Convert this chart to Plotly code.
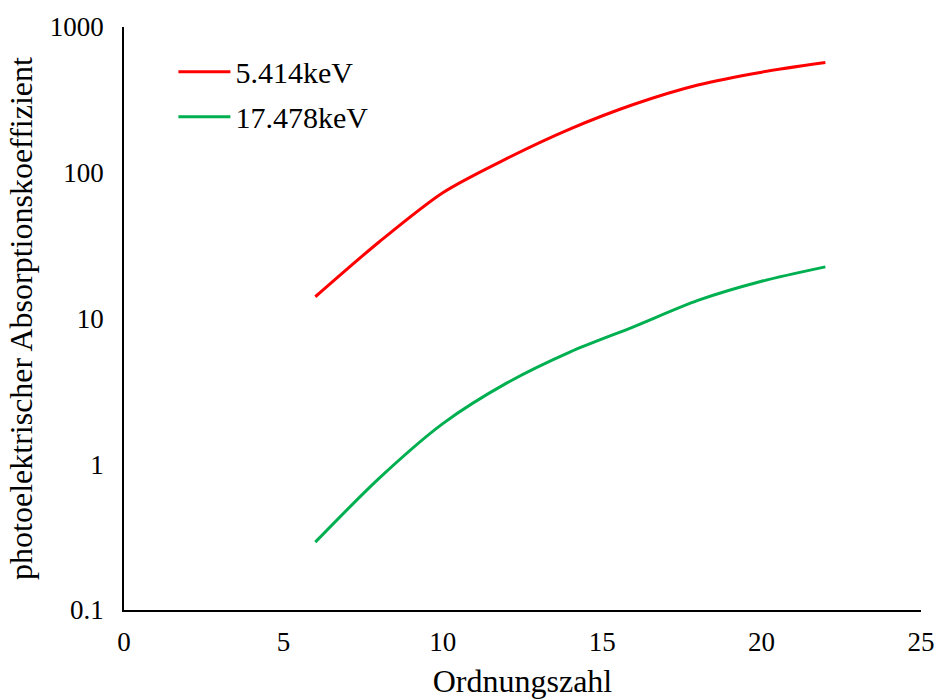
import plotly.graph_objects as go

# Atomic number (Ordnungszahl)
z_values = [6, 8, 10, 12, 14, 16, 18, 20, 22]
# photoelectric absorption coefficient at 5.414 keV
mu_5414 = [14.1, 33.5, 73, 125, 200, 295, 400, 490, 570]
# photoelectric absorption coefficient at 17.478 keV
mu_17478 = [0.292, 0.80, 1.9, 3.6, 5.9, 8.8, 13.3, 18.0, 22.6]

y_tickvals = [0.1, 1, 10, 100, 1000]
y_ticktext = ["0.1", "1", "10", "100", "1000"]
x_tickvals = [0, 5, 10, 15, 20, 25]

font_family = "Liberation Serif"

fig = go.Figure()
fig.add_trace(go.Scatter(x=z_values, y=mu_5414, mode="lines", name="5.414keV",
                         legendgroup="a",
                         line=dict(color="#ff0000", width=3, shape="spline", smoothing=0.8)))
fig.add_trace(go.Scatter(x=z_values, y=mu_17478, mode="lines", name="17.478keV",
                         legendgroup="b",
                         line=dict(color="#00b050", width=3, shape="spline", smoothing=0.8)))

fig.update_layout(
    width=936, height=699,
    margin=dict(l=124, r=15, t=27, b=89, autoexpand=False),
    paper_bgcolor="white", plot_bgcolor="white",
    font=dict(family=font_family, color="black", size=27),
    showlegend=True,
    legend=dict(x=0.062, y=0.968, xanchor="left", yanchor="top",
                font=dict(size=30, family=font_family),
                bgcolor="rgba(0,0,0,0)", tracegroupgap=3, itemwidth=52),
    xaxis=dict(range=[0, 25], tickvals=x_tickvals, showgrid=False, zeroline=False,
               showline=True, linecolor="black", linewidth=1.5, ticks="",
               automargin=False,
               ticklabelstandoff=7, tickfont=dict(size=27),
               title=dict(text="Ordnungszahl", font=dict(size=32), standoff=27)),
    yaxis=dict(type="log", range=[-1, 3], tickvals=y_tickvals, ticktext=y_ticktext,
               showgrid=False, zeroline=False, showline=True, linecolor="black",
               automargin=False,
               linewidth=1.5, ticks="", ticklabelstandoff=13, tickfont=dict(size=27),
               title=dict(text="photoelektrischer Absorptionskoeffizient",
                          font=dict(size=32), standoff=8)),
)

fig.write_html("out.html")
